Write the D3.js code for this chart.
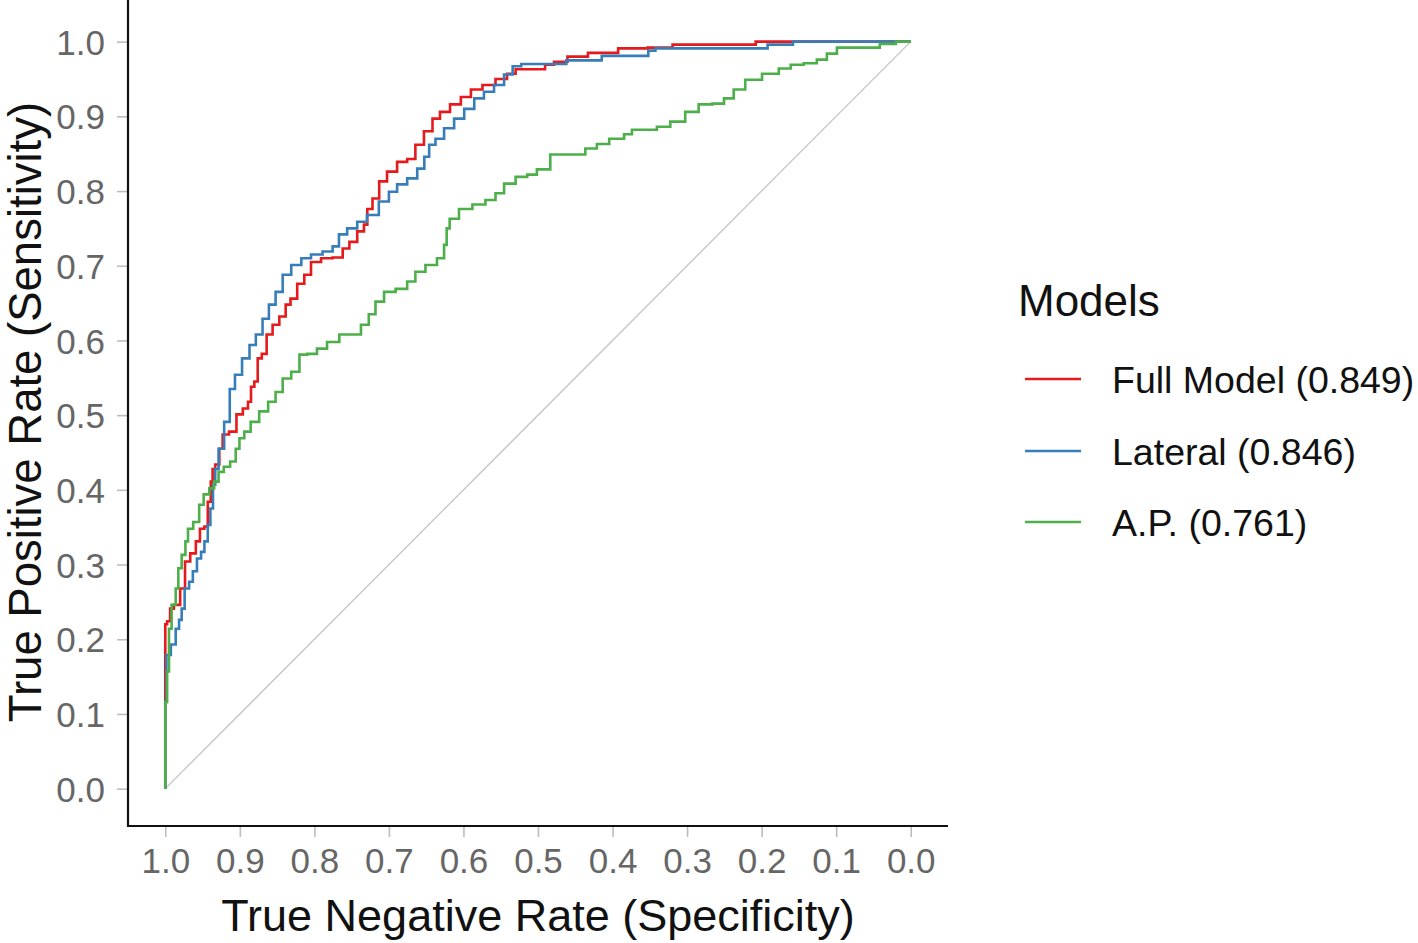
<!DOCTYPE html>
<html>
<head>
<meta charset="utf-8">
<script src="https://d3js.org/d3.v7.min.js"></script>
<style>
  html, body { margin: 0; padding: 0; background: #fff; }
  svg { display: block; font-family: "Liberation Sans", Arial, sans-serif; }
</style>
</head>
<body>
<svg id="chart" width="1418" height="943"></svg>
<script>
// ---- Data (specificity, sensitivity) ----
const modelNames = ["Full Model (0.849)", "Lateral (0.846)", "A.P. (0.761)"];
const modelColors = ["#E41A1C", "#377EB8", "#4DAF4A"];
const xTicks = [1.0, 0.9, 0.8, 0.7, 0.6, 0.5, 0.4, 0.3, 0.2, 0.1, 0.0];
const yTicks = [0.0, 0.1, 0.2, 0.3, 0.4, 0.5, 0.6, 0.7, 0.8, 0.9, 1.0];

const fullModel = [
  [1.000,0.000],[1.000,0.220],[0.995,0.224],[0.992,0.241],[0.985,0.246],[0.975,0.268],
  [0.972,0.304],[0.961,0.315],[0.957,0.331],[0.950,0.348],[0.945,0.351],[0.941,0.384],
  [0.937,0.411],[0.936,0.428],[0.930,0.434],[0.925,0.455],[0.921,0.474],[0.908,0.478],
  [0.901,0.501],[0.891,0.509],[0.887,0.518],[0.883,0.538],[0.878,0.545],[0.874,0.576],
  [0.867,0.582],[0.861,0.608],[0.851,0.621],[0.843,0.632],[0.834,0.648],[0.830,0.656],
  [0.816,0.676],[0.811,0.688],[0.798,0.705],[0.784,0.710],[0.767,0.711],[0.757,0.723],
  [0.749,0.732],[0.736,0.746],[0.731,0.755],[0.727,0.776],[0.717,0.790],[0.709,0.813],
  [0.696,0.826],[0.682,0.839],[0.669,0.843],[0.660,0.862],[0.646,0.880],[0.637,0.897],
  [0.626,0.906],[0.610,0.916],[0.597,0.926],[0.583,0.936],[0.566,0.942],[0.548,0.950],
  [0.535,0.957],[0.525,0.963],[0.493,0.963],[0.488,0.969],[0.469,0.973],[0.452,0.980],
  [0.414,0.985],[0.371,0.991],[0.335,0.992],[0.304,0.996],[0.208,0.996],[0.208,1.000],
  [0.000,1.000]
];

const lateral = [
  [1.000,0.000],[1.000,0.116],[0.997,0.179],[0.988,0.193],[0.984,0.214],[0.979,0.226],
  [0.977,0.241],[0.971,0.268],[0.965,0.277],[0.961,0.291],[0.954,0.308],[0.950,0.317],
  [0.945,0.331],[0.941,0.353],[0.938,0.375],[0.934,0.407],[0.932,0.428],[0.925,0.455],
  [0.917,0.491],[0.910,0.535],[0.903,0.554],[0.891,0.576],[0.883,0.594],[0.874,0.608],
  [0.865,0.629],[0.857,0.648],[0.847,0.665],[0.838,0.688],[0.824,0.701],[0.811,0.710],
  [0.798,0.715],[0.780,0.719],[0.771,0.726],[0.763,0.742],[0.749,0.750],[0.736,0.759],
  [0.723,0.768],[0.704,0.786],[0.696,0.799],[0.682,0.809],[0.669,0.817],[0.655,0.830],
  [0.650,0.846],[0.642,0.862],[0.633,0.870],[0.619,0.884],[0.606,0.897],[0.592,0.910],
  [0.579,0.924],[0.566,0.933],[0.552,0.942],[0.539,0.956],[0.529,0.967],[0.516,0.970],
  [0.464,0.970],[0.460,0.975],[0.417,0.975],[0.412,0.981],[0.354,0.981],[0.350,0.988],
  [0.335,0.991],[0.192,0.991],[0.192,0.996],[0.158,0.996],[0.158,1.000],[0.000,1.000]
];

const ap = [
  [1.000,0.000],[1.000,0.116],[0.995,0.157],[0.995,0.214],[0.988,0.246],[0.984,0.268],
  [0.981,0.295],[0.975,0.313],[0.971,0.331],[0.968,0.348],[0.957,0.357],[0.952,0.380],
  [0.945,0.394],[0.937,0.402],[0.932,0.411],[0.925,0.424],[0.918,0.431],[0.908,0.438],
  [0.903,0.455],[0.898,0.469],[0.890,0.478],[0.881,0.491],[0.867,0.505],[0.857,0.518],
  [0.847,0.531],[0.838,0.549],[0.824,0.558],[0.816,0.581],[0.803,0.582],[0.790,0.589],
  [0.776,0.598],[0.757,0.608],[0.744,0.608],[0.731,0.621],[0.723,0.635],[0.713,0.652],
  [0.700,0.665],[0.682,0.669],[0.669,0.679],[0.660,0.692],[0.642,0.701],[0.629,0.710],
  [0.623,0.728],[0.622,0.750],[0.615,0.763],[0.597,0.776],[0.579,0.782],[0.562,0.788],
  [0.552,0.797],[0.539,0.810],[0.521,0.819],[0.508,0.822],[0.495,0.829],[0.472,0.849],
  [0.445,0.849],[0.428,0.857],[0.414,0.863],[0.395,0.870],[0.374,0.876],[0.374,0.882],
  [0.347,0.882],[0.334,0.886],[0.311,0.893],[0.294,0.906],[0.275,0.916],[0.257,0.917],
  [0.244,0.924],[0.231,0.936],[0.213,0.949],[0.186,0.957],[0.168,0.964],[0.154,0.969],
  [0.133,0.971],[0.119,0.976],[0.106,0.984],[0.092,0.992],[0.043,0.992],[0.040,0.997],
  [0.000,1.000]
];

const series = [fullModel, lateral, ap];

// ---- Layout ----
const svg = d3.select("#chart");
const panel = { left: 128, right: 948, top: 0, bottom: 826 };
const x = d3.scaleLinear().domain([1.05, -0.05]).range([panel.left, panel.right]);
const y = d3.scaleLinear().domain([-0.05, 1.05]).range([826, 826 - 1.1 * 747]);

const tickColor = "#666";

// diagonal reference
svg.append("line")
  .attr("x1", x(1)).attr("y1", y(0))
  .attr("x2", x(0)).attr("y2", y(1))
  .attr("stroke", "#c4c4c4").attr("stroke-width", 1.3);

// curves
const line = d3.line()
  .x(d => x(d[0])).y(d => y(d[1]))
  .curve(d3.curveStep);

series.forEach((s, i) => {
  svg.append("path")
    .datum(s)
    .attr("d", line)
    .attr("fill", "none")
    .attr("stroke", modelColors[i])
    .attr("stroke-width", 2.6)
    .attr("stroke-linejoin", "miter");
});

// axes
const xAxis = d3.axisBottom(x).tickValues(xTicks).tickFormat(d3.format(".1f")).tickSize(11).tickPadding(11);
const yAxis = d3.axisLeft(y).tickValues(yTicks).tickFormat(d3.format(".1f")).tickSize(11).tickPadding(12);

const gx = svg.append("g").attr("transform", `translate(0,${panel.bottom})`).call(xAxis);
const gy = svg.append("g").attr("transform", `translate(${panel.left},0)`).call(yAxis);

[gx, gy].forEach(g => {
  g.select(".domain").remove();
  g.selectAll(".tick line").attr("stroke", "#bdbdbd").attr("stroke-width", 1.6);
  g.selectAll(".tick text").attr("fill", tickColor).style("font-size", "35px")
    .style("font-family", "'Liberation Sans', Arial, sans-serif");
});
gy.selectAll(".tick text").attr("dy", "0.36em");

// axis lines
svg.append("line").attr("x1", panel.left).attr("x2", panel.left)
  .attr("y1", panel.top).attr("y2", panel.bottom + 1)
  .attr("stroke", "#111").attr("stroke-width", 2.2);
svg.append("line").attr("x1", panel.left - 1).attr("x2", panel.right)
  .attr("y1", panel.bottom).attr("y2", panel.bottom)
  .attr("stroke", "#111").attr("stroke-width", 2.2);

// axis titles
svg.append("text")
  .attr("x", (panel.left + panel.right) / 2).attr("y", 931)
  .attr("text-anchor", "middle")
  .style("font-size", "45px").attr("fill", "#111")
  .text("True Negative Rate (Specificity)");

svg.append("text")
  .attr("transform", `translate(41,${412}) rotate(-90)`)
  .attr("text-anchor", "middle")
  .style("font-size", "45.5px").attr("fill", "#111")
  .text("True Positive Rate (Sensitivity)");

// legend
const legend = svg.append("g");
legend.append("text").attr("x", 1018).attr("y", 316)
  .style("font-size", "44px").attr("fill", "#111").text("Models");
const legendY = [379, 451, 522];
modelNames.forEach((name, i) => {
  legend.append("line")
    .attr("x1", 1025).attr("x2", 1081)
    .attr("y1", legendY[i]).attr("y2", legendY[i])
    .attr("stroke", modelColors[i]).attr("stroke-width", 2.4);
  legend.append("text")
    .attr("x", 1112).attr("y", legendY[i]).attr("dy", "0.36em")
    .style("font-size", "37.5px").attr("fill", "#111").text(name);
});
</script>
</body>
</html>
